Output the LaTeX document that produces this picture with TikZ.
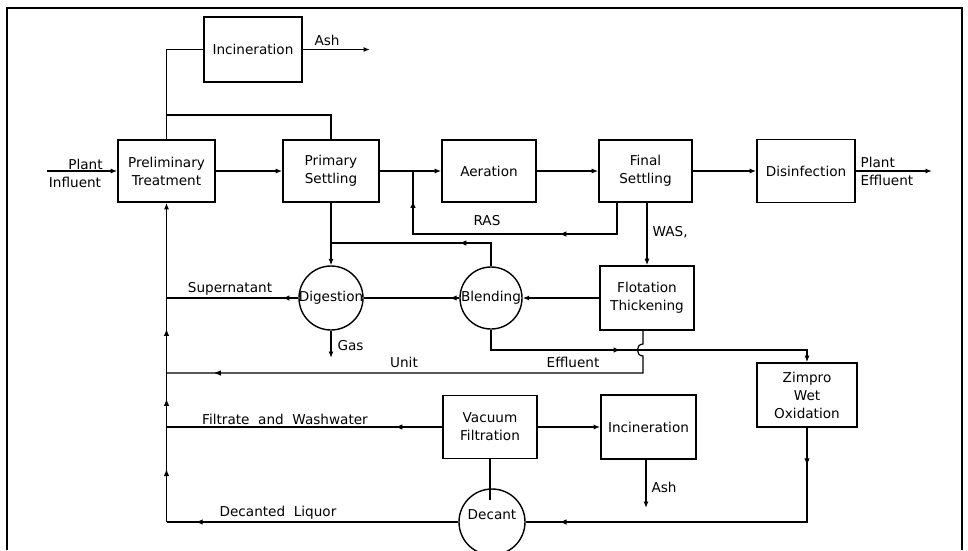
\documentclass[tikz,border=0pt]{standalone}
\usepackage{fontspec}
\setmainfont{DejaVu Sans}
\usetikzlibrary{arrows.meta,decorations.markings}
\begin{document}
\begin{tikzpicture}[x=1pt,y=-1pt,
  font=\fontsize{13.6}{18}\selectfont,
  line width=1.2pt,
  >={Latex[length=6.5pt,width=5pt]},
  box/.style={draw, line width=1.6pt, align=center, inner sep=2pt},
  circ/.style={draw, circle, line width=1.4pt, inner sep=0pt},
  lbl/.style={inner sep=1pt},
  ma/.style={postaction={decorate,decoration={markings,mark=at position #1 with {\arrow[line width=1.2pt]{Latex[length=7pt,width=5.5pt]}}}}},
]
\useasboundingbox (0,0) rectangle (968,550);
\fill[white] (0,0) rectangle (968,550);
\clip (0,0) rectangle (968,550);

% frame
\draw[line width=1.2pt] (7,550) -- (7,8) -- (962,8) -- (962,550);

% boxes
\node[box, minimum width=98pt, minimum height=65pt] (inc1) at (253,49.5) {Incineration};
\node[box, minimum width=97pt, minimum height=62pt] (prelim) at (166.5,171) {Preliminary\\Treatment};
\node[box, minimum width=96pt, minimum height=62pt] (primary) at (331,171) {Primary\\Settling};
\node[box, minimum width=94pt, minimum height=62pt] (aer) at (489,171) {Aeration};
\node[box, minimum width=93pt, minimum height=62pt] (final) at (645.5,171) {Final\\Settling};
\node[box, minimum width=98pt, minimum height=63pt] (disinf) at (806,171) {Disinfection};
\node[box, minimum width=94pt, minimum height=64pt] (flot) at (647,298) {Flotation\\Thickening};
\node[box, minimum width=100pt, minimum height=64pt] (zimpro) at (807,395) {Zimpro\\Wet\\Oxidation};
\node[box, minimum width=94pt, minimum height=63pt] (vac) at (490,427) {Vacuum\\Filtration};
\node[box, minimum width=95pt, minimum height=64pt] (inc2) at (648.5,427) {Incineration};

% circles
\node[circ, minimum size=64pt] (dig) at (331,298) {};
\node[lbl] (digtxt) at (331,298) {Digestion};
\node[circ, minimum size=62pt] (blend) at (491,298) {};
\node[lbl] (blendtxt) at (491,298) {Blending};
\node[circ, minimum size=66pt] (decant) at (492,522) {};
\node[lbl] (decanttxt) at (492,515) {Decant};

% influent / main line
\coordinate (infl) at (47,171);
\draw[->] (infl) -- (prelim.west);
\node[lbl] (plant1) at (85.5,164) {Plant};
\node[lbl] (influent) at (75,182) {Influent};
\draw[->] (prelim.east) -- (primary.west);
\draw[->] (primary.east) -- (aer.west);
\draw[->] (aer.east) -- (final.west);
\draw[->] (final.east) -- (disinf.west);
\coordinate (effl) at (932,171);
\draw[->] (disinf.east) -- (effl);
\node[lbl, anchor=west] (plant2) at (859,162) {Plant};
\node[lbl, anchor=west] (effluent) at (859,180) {Effluent};

% to top incineration
\draw (prelim.north) |- (inc1.west);
\coordinate (jtop) at (166.5,115);
\draw (primary.north) |- (jtop);
\coordinate (ash1) at (370,49.5);
\draw[->] (inc1.east) -- (ash1);
\node[lbl] (ashlbl1) at (327,40) {Ash};

% RAS
\coordinate (rasA) at (617,202);
\coordinate (rasC) at (413,234);
\coordinate (rasB) at (413,171);
\draw[ma=0.3, ma=0.9] (rasA) |- (rasC) -- (rasB);
\node[lbl] (raslbl) at (487,221) {RAS};

% WAS
\draw[->] (final.south -| flot.north) -- (flot.north);
\node[lbl, anchor=west] (waslbl) at (651,232) {WAS,};

% primary sludge to digestion
\draw[->] (primary.south) -- (dig.north);
\coordinate (jdig) at (331,243);
\draw[ma=0.3] (blend.north) |- (jdig);

% supernatant
\coordinate (supL) at (166.5,298);
\draw[ma=0.12] (dig.west) -- (supL);
\node[lbl] (suplbl) at (230,289) {Supernatant};

% blending to digestion
\draw[ma=0.1] (blend.west) -- (dig.east);
% flotation to blending
\draw[->] (flot.west) -- (blend.east);

% gas
\coordinate (gas) at (331,358);
\draw[->] (dig.south) -- (gas);
\node[lbl, anchor=west] (gaslbl) at (336,346) {Gas};

% blending to zimpro
\coordinate (bz) at (491,350);
\draw[->, ma=0.43] (blend.south) -- (bz) -| (zimpro.north);

% unit effluent
\coordinate (fA) at ([xshift=-4pt]flot.south);
\coordinate (fB) at (643,344);
\coordinate (fC) at (643,356);
\coordinate (uL) at (166.5,373);
\draw[ma=0.91] (fA) -- (fB) to[out=180,in=180,looseness=1.6] (fC) |- (uL);
\node[lbl] (unitlbl) at (404,362) {Unit};
\node[lbl] (efflbl) at (573,362) {Effluent};

% main return line
\coordinate (dL) at (166.5,522);
\draw[->, ma=0.166, ma=0.386, ma=0.605] (dL) -- (prelim.south);

% filtrate
\coordinate (fL) at (166.5,427);
\draw[ma=0.17] (vac.west) -- (fL);
\node[lbl] (filtlbl) at (285,419) {Filtrate\ \ and\ \ Washwater};

% vacuum to incineration
\draw[->] (vac.east) -- (inc2.west);
\coordinate (ash2) at (646,508);
\draw[->] (inc2.south -| ash2) -- (ash2);
\node[lbl, anchor=west] (ashlbl2) at (650,487) {Ash};

% zimpro to decant
\coordinate (zd) at (807,522);
\draw[ma=0.1, ma=0.91] (zimpro.south) -- (zd) -- (decant.east);

% decant to return
\draw[ma=0.9] (decant.west) -- (dL);
\node[lbl] (declbl) at (278,513) {Decanted\ \ Liquor};

% vacuum to decant
\coordinate (vd) at (490,500);
\draw (vac.south) -- (vd);
\end{tikzpicture}
\end{document}
